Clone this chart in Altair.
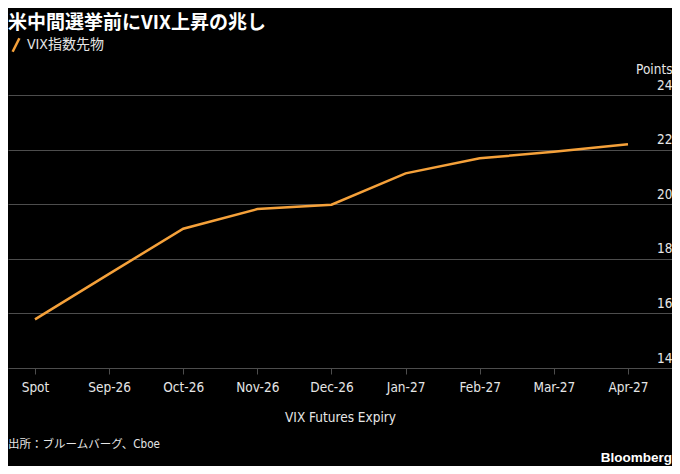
import altair as alt
import pandas as pd

title_text = "米中間選挙前にVIX上昇の兆し"
series_name = "VIX指数先物"
categories = ["Spot", "Sep-26", "Oct-26", "Nov-26", "Dec-26", "Jan-27", "Feb-27", "Mar-27", "Apr-27"]
values = [15.78, 17.45, 19.10, 19.82, 19.98, 21.13, 21.68, 21.92, 22.20]
y_ticks = [14, 16, 18, 20, 22, 24]
x_title = "VIX Futures Expiry"
y_title = "Points"
source_text = "出所：ブルームバーグ、Cboe"
brand_text = "Bloomberg"

df = pd.DataFrame({"expiry": categories, "points": values, "series": [series_name] * len(categories)})

W, H = 664, 273
ORANGE = "#f5a13a"
GRID = "#4d4d4d"
TXT = "#e6e6e6"
LAT = "'DejaVu Sans Condensed', 'Noto Sans CJK JP', sans-serif"

line = alt.Chart(df).mark_line(strokeWidth=2.5).encode(
    x=alt.X(
        "expiry:N",
        sort=categories,
        scale=alt.Scale(type="point", padding=0.479, align=0.38),
        axis=alt.Axis(
            title=x_title, labelAngle=0, domain=False, tickColor=GRID, tickSize=6, tickWidth=1,
            labelColor=TXT, labelFont=LAT, labelFontSize=13.5, labelPadding=6,
            titleFont=LAT, titleFontSize=13.5, titleFontWeight="normal", titleColor=TXT,
            titleY=53, titleBaseline="alphabetic", grid=False,
        ),
    ),
    y=alt.Y(
        "points:Q",
        scale=alt.Scale(domain=[14, 24], nice=False, zero=False),
        axis=alt.Axis(
            orient="right", values=y_ticks, domain=False, ticks=False, tickSize=0,
            grid=True, gridColor=GRID, gridWidth=1,
            labelAlign="right", labelBaseline="alphabetic", labelOffset=-6, labelPadding=0,
            labelFlush=False, labelColor=TXT, labelFont=LAT, labelFontSize=13.5,
            title=y_title, titleAngle=0, titleAlign="right", titleBaseline="alphabetic",
            titleX=0, titleY=-22, titleFont=LAT, titleFontSize=13.5, titleFontWeight="normal",
            titleColor=TXT,
        ),
    ),
    color=alt.Color(
        "series:N",
        scale=alt.Scale(range=[ORANGE]),
        legend=alt.Legend(
            orient="none", legendX=0, legendY=-58, title=None,
            symbolType="M-0.5,1L0.5,-1", symbolSize=180, symbolStrokeWidth=2.5,
            labelFont=LAT, labelFontSize=14, labelColor=TXT, labelOffset=3, padding=0,
        ),
    ),
)

footer = alt.Chart(pd.DataFrame({"t": [source_text]})).mark_text(
    align="left", baseline="middle", font=LAT, fontSize=11.5, color=TXT
).encode(text="t:N", x=alt.value(0), y=alt.value(350))

brand = alt.Chart(pd.DataFrame({"t": [brand_text]})).mark_text(
    align="right", baseline="alphabetic", font="'Liberation Sans', sans-serif", fontSize=13.5,
    fontWeight="bold", color="#ffffff"
).encode(text="t:N", x=alt.value(W), y=alt.value(367))

chart = alt.layer(line, footer, brand).properties(
    width=W, height=H,
    title=alt.TitleParams(
        text=title_text, anchor="start", frame="group", font="Noto Sans CJK JP",
        fontSize=19, fontWeight="bold", color="#ffffff", offset=8, dy=4,
    ),
    autosize=alt.AutoSizeParams(type="none"),
    padding={"left": 0, "top": 87, "right": 0, "bottom": 98},
).configure(background="#000000").configure_view(strokeWidth=0)

chart.save("out.html", embed_options={"renderer": "svg", "actions": False})
